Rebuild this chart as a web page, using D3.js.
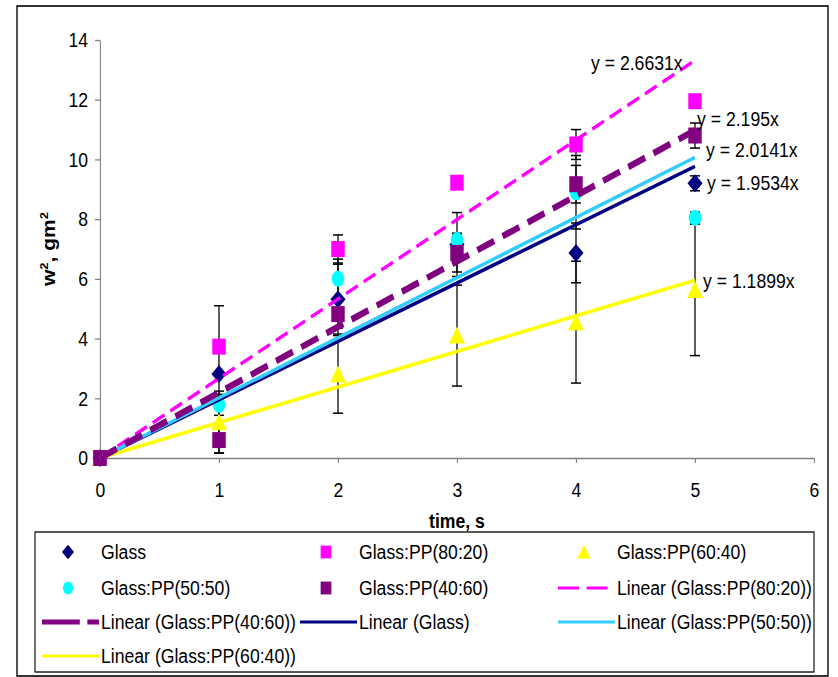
<!DOCTYPE html>
<html>
<head>
<meta charset="utf-8">
<script src="https://cdn.jsdelivr.net/npm/d3@7"></script>
<style>
  body { margin: 0; background: #fff; }
  text { font-family: "Liberation Sans", Arial, sans-serif; }
</style>
</head>
<body>
<div id="chart"></div>
<script>
// Data
const times = [0, 1, 2, 3, 4, 5];
const seriesNames = ["Glass", "Glass:PP(80:20)", "Glass:PP(60:40)", "Glass:PP(50:50)", "Glass:PP(40:60)"];
const glass = [0, 2.81, 5.32, 7.15, 6.87, 9.2];
const glassErr = [0, 2.29, 1.17, 1.07, 1.0, 0.25];
const pp8020 = [0, 3.73, 7.0, 9.22, 10.5, 11.95];
const pp8020Err = [0, 0, 0.47, 0, 0.5, 0];
const pp6040 = [0, 1.2, 2.8, 4.1, 4.55, 5.63];
const pp6040Err = [0, 1.04, 1.3, 1.69, 2.04, 2.2];
const pp5050 = [0, 1.78, 6.0, 7.3, 8.9, 8.04];
const pp5050Err = [0, 0.35, 0.66, 0.23, 1.23, 0.2];
const pp4060 = [0, 0.6, 4.82, 6.87, 9.17, 10.8];
const pp4060Err = [0, 0.43, 0.47, 0.64, 0.63, 0.42];
const slopes = [1.9534, 2.6631, 1.1899, 2.0141, 2.195];
const xTicks = [0, 1, 2, 3, 4, 5, 6];
const yTicks = [0, 2, 4, 6, 8, 10, 12, 14];

// the whole picture is a bit narrow, so draw wide and squeeze it
const K = 0.84;
const u = p => p / K;

const series = [
    {name: seriesNames[0], values: glass, err: glassErr, shape: "diamond", fill: "#000080", line: "#000080", width: 3.6, dash: null},
    {name: seriesNames[1], values: pp8020, err: pp8020Err, shape: "square", fill: "#ff00ff", line: "#ff00ff", width: 3.6, dash: "16,8"},
    {name: seriesNames[2], values: pp6040, err: pp6040Err, shape: "triangle", fill: "#ffff00", line: "#ffff00", width: 3.6, dash: null},
    {name: seriesNames[3], values: pp5050, err: pp5050Err, shape: "circle", fill: "#00ffff", line: "#33ccff", width: 3.6, dash: null},
    {name: seriesNames[4], values: pp4060, err: pp4060Err, shape: "square", fill: "#800080", line: "#800080", width: 6.5, dash: "22,11"}
];

let svg = d3.select("#chart").append("svg")
    .attr("width", 838).attr("height", 677);
let root = svg.append("g").attr("transform", "scale(" + K + ",1)");

//Outer Frame
root.append("rect")
    .attr("x", u(17)).attr("y", 6)
    .attr("width", u(828) - u(17)).attr("height", 670)
    .attr("fill", "none").attr("stroke", "#000").attr("stroke-width", 1.6);

//Scales
let x = d3.scaleLinear().domain([0, 6]).range([u(100), u(814)]);
let y = d3.scaleLinear().domain([0, 14]).range([458, 40]);

//Axes
let xAxis = d3.axisBottom(x).tickValues(xTicks).tickFormat(d3.format("d"))
    .tickSize(5).tickSizeOuter(0).tickPadding(19);
let yAxis = d3.axisLeft(y).tickValues(yTicks).tickFormat(d3.format("d"))
    .tickSize(u(5)).tickSizeOuter(0).tickPadding(u(7));

let gx = root.append("g").attr("transform", "translate(0," + y(0) + ")").call(xAxis);
let gy = root.append("g").attr("transform", "translate(" + x(0) + ",0)").call(yAxis);
[gx, gy].forEach(g => {
    g.select(".domain").attr("stroke", "#808080").attr("stroke-width", 1.3);
    g.selectAll(".tick line").attr("stroke", "#808080").attr("stroke-width", 1.3);
    g.selectAll("text").attr("font-size", 21).attr("fill", "#000")
        .attr("font-family", "Liberation Sans, Arial, sans-serif");
});

//Axis Titles
root.append("text")
    .attr("x", u(457)).attr("y", 528)
    .attr("text-anchor", "middle").attr("font-size", 21).attr("font-weight", "bold")
    .text("time, s");

let yTitle = root.append("text")
    .attr("transform", "translate(" + u(55) + ",249) rotate(-90)")
    .attr("text-anchor", "middle").attr("font-size", 21).attr("font-weight", "bold");
yTitle.append("tspan").text("w");
yTitle.append("tspan").attr("font-size", 13).attr("dy", -8).text("2");
yTitle.append("tspan").attr("dy", 8).text(", gm");
yTitle.append("tspan").attr("font-size", 13).attr("dy", -8).text("2");

//Markers
function marker(g, shape, color, s) {
    s = s || 1;
    if (shape === "square") {
        g.append("rect").attr("x", -8 * s).attr("y", -8 * s).attr("width", 16 * s).attr("height", 16 * s).attr("fill", color);
    } else if (shape === "diamond") {
        g.append("path").attr("d", "M0," + (-9 * s) + "L" + (9 * s) + ",0L0," + (9 * s) + "L" + (-9 * s) + ",0Z").attr("fill", color);
    } else if (shape === "triangle") {
        g.append("path").attr("d", "M0," + (-9 * s) + "L" + (9.5 * s) + "," + (8 * s) + "L" + (-9.5 * s) + "," + (8 * s) + "Z").attr("fill", color);
    } else {
        g.append("ellipse").attr("rx", 7.5 * s).attr("ry", 8 * s).attr("fill", color);
    }
}

let pts = [];
series.forEach((s, si) => {
    times.forEach((t, i) => pts.push({si: si, t: t, v: s.values[i], e: s.err[i]}));
});

//Error Bars
let bars = root.append("g").selectAll("g").data(pts.filter(d => d.e > 0)).enter().append("g")
    .attr("stroke", "#000").attr("stroke-width", 1.5);
bars.append("line")
    .attr("x1", d => x(d.t)).attr("x2", d => x(d.t))
    .attr("y1", d => y(d.v - d.e)).attr("y2", d => y(d.v + d.e));
bars.append("line")
    .attr("x1", d => x(d.t) - 6).attr("x2", d => x(d.t) + 6)
    .attr("y1", d => y(d.v - d.e)).attr("y2", d => y(d.v - d.e));
bars.append("line")
    .attr("x1", d => x(d.t) - 6).attr("x2", d => x(d.t) + 6)
    .attr("y1", d => y(d.v + d.e)).attr("y2", d => y(d.v + d.e));

//Points
root.append("g").selectAll("g").data(pts).enter().append("g")
    .attr("transform", d => "translate(" + x(d.t) + "," + y(d.v) + ")")
    .each(function(d) { marker(d3.select(this), series[d.si].shape, series[d.si].fill); });

//Trendlines (through origin)
series.forEach((s, si) => {
    root.append("line")
        .attr("x1", x(0)).attr("y1", y(0))
        .attr("x2", x(5)).attr("y2", y(slopes[si] * 5))
        .attr("stroke", s.line).attr("stroke-width", s.width)
        .attr("stroke-dasharray", s.dash);
});

//Equation Labels
const eqnOrder = [1, 4, 3, 0, 2];
const eqnPos = [[591, 70], [697, 126], [706, 157], [707, 190], [703, 288]];
eqnOrder.forEach((si, k) => {
    root.append("text")
        .attr("x", u(eqnPos[k][0])).attr("y", eqnPos[k][1])
        .attr("font-size", 21)
        .text("y = " + slopes[si] + "x");
});

//Legend
root.append("rect")
    .attr("x", u(35)).attr("y", 532)
    .attr("width", u(814) - u(35)).attr("height", 140)
    .attr("fill", "none").attr("stroke", "#000").attr("stroke-width", 1.3);

const legendItems = [
    {type: "mark", si: 0}, {type: "mark", si: 1}, {type: "mark", si: 2},
    {type: "mark", si: 3}, {type: "mark", si: 4}, {type: "line", si: 1},
    {type: "line", si: 4}, {type: "line", si: 0}, {type: "line", si: 3},
    {type: "line", si: 2}
];
const colX = [42, 300, 558];
const rowY = [552, 588, 622, 656];
const legendDash = {1: "25,9", 4: "45,9"};

legendItems.forEach((it, k) => {
    let cx = colX[k % 3], cy = rowY[Math.floor(k / 3)];
    let s = series[it.si];
    let g = root.append("g");
    if (it.type === "mark") {
        let m = g.append("g").attr("transform", "translate(" + u(cx + 26) + "," + cy + ")");
        marker(m, s.shape, s.fill, 0.8);
    } else {
        g.append("line")
            .attr("x1", u(cx)).attr("x2", u(cx + 57))
            .attr("y1", cy).attr("y2", cy)
            .attr("stroke", s.line).attr("stroke-width", s.width > 5 ? 5 : 3)
            .attr("stroke-dasharray", legendDash[it.si] || null);
    }
    g.append("text")
        .attr("x", u(cx + 59)).attr("y", cy + 7)
        .attr("font-size", 21)
        .text(it.type === "mark" ? s.name : "Linear (" + s.name + ")");
});
</script>
</body>
</html>
